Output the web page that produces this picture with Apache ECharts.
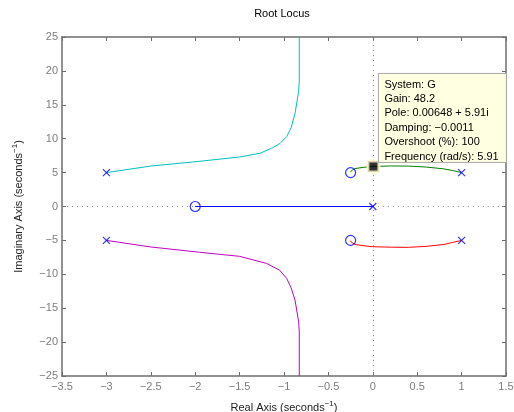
<!DOCTYPE html>
<html>
<head>
<meta charset="utf-8">
<script src="https://cdn.jsdelivr.net/npm/echarts@6/dist/echarts.min.js"></script>
<style>
  html, body { margin: 0; padding: 0; background: #fff; }
  #chart { width: 514px; height: 412px; }
</style>
</head>
<body>
<div id="chart"></div>
<script>
// root locus branches as [real, imag]
var branchCyan = [[-3, 5], [-2.5, 5.97], [-2.0, 6.6], [-1.5, 7.3], [-1.27, 7.85], [-1.14, 8.58],
  [-1.045, 9.3], [-0.97, 10.3], [-0.92, 11.6], [-0.876, 13.7], [-0.835, 17.0], [-0.828, 18.5], [-0.828, 25]];
var branchMagenta = [[-3, -5], [-2.5, -5.97], [-1.95, -6.75], [-1.5, -7.35], [-1.195, -8.4], [-1.05, -9.4],
  [-0.97, -10.6], [-0.92, -12.0], [-0.876, -13.8], [-0.835, -17.0], [-0.828, -18.5], [-0.828, -25]];
var branchBlue = [[0, 0], [-2, 0]];
var branchGreen = [[1, 5], [0.9, 5.3], [0.8, 5.55], [0.6, 5.82], [0.4, 5.96], [0.2, 5.98], [0.00648, 5.91],
  [-0.1, 5.78], [-0.2, 5.6], [-0.24, 5.3], [-0.25, 5.05]];
var branchRed = [[1, -5], [0.9, -5.3], [0.8, -5.6], [0.6, -5.88], [0.4, -6.02], [0.2, -6.0], [0, -5.93],
  [-0.1, -5.8], [-0.2, -5.6], [-0.24, -5.3], [-0.25, -5.05]];

var poles = [[-3, 5], [-3, -5], [1, 5], [1, -5], [0, 0]];
var zeros = [[-2, 0], [-0.25, 5], [-0.25, -5]];

var selectedPole = [0.00648, 5.91];
var infoLines = ['System: G', 'Gain: 48.2', 'Pole: 0.00648 + 5.91i', 'Damping: \u22120.0011',
  'Overshoot (%): 100', 'Frequency (rad/s): 5.91'];

var xTicks = { min: -3.5, max: 1.5, step: 0.5 };
var yTicks = { min: -25, max: 25, step: 5 };

var axisGray = '#6e6e6e';
var labelGray = '#7d7d7d';
var font = 'Liberation Sans, Arial, sans-serif';

function fmt(v) {
  return String(v).replace('-', '\u2212');
}

function lineSeries(data, color) {
  return {
    type: 'line', data: data, showSymbol: false, symbol: 'none',
    lineStyle: { color: color, width: 1 }, silent: true, animation: false, z: 3
  };
}

var chartDom = document.getElementById('chart');
var myChart = echarts.init(chartDom);

var sideAxis = {
  type: 'value', axisLabel: { show: false }, splitLine: { show: false },
  axisLine: { show: true, onZero: false, lineStyle: { color: axisGray, width: 1.5 } },
  axisTick: { show: true, inside: true, length: 4, lineStyle: { color: axisGray } }
};

var option = {
  animation: false,
  title: {
    text: 'Root Locus', left: 277, top: 3, textAlign: 'center',
    textStyle: { fontSize: 11, fontWeight: 'normal', color: '#000', fontFamily: font }
  },
  grid: { left: 62, right: 8, top: 37, bottom: 36, containLabel: false, outerBoundsMode: 'none' },
  xAxis: [
    Object.assign({}, sideAxis, {
      position: 'bottom', min: xTicks.min, max: xTicks.max, interval: xTicks.step,
      axisLabel: { show: true, color: labelGray, fontSize: 11, fontFamily: font, margin: 5, formatter: fmt },
      name: 'Real Axis (seconds{sup|\u22121})', nameLocation: 'middle', nameGap: 24,
      nameTextStyle: {
        color: '#222', fontSize: 11, fontFamily: font,
        rich: { sup: { fontSize: 8, fontFamily: font, color: '#222', padding: [0, 0, 7, 0] } }
      }
    }),
    Object.assign({}, sideAxis, { position: 'top', min: xTicks.min, max: xTicks.max, interval: xTicks.step })
  ],
  yAxis: [
    Object.assign({}, sideAxis, {
      position: 'left', min: yTicks.min, max: yTicks.max, interval: yTicks.step,
      axisLabel: { show: true, color: labelGray, fontSize: 11, fontFamily: font, margin: 4, formatter: fmt },
      name: 'Imaginary Axis (seconds{sup|\u22121})', nameLocation: 'middle', nameGap: 36, nameRotate: 90,
      nameTextStyle: {
        color: '#222', fontSize: 11, fontFamily: font,
        rich: { sup: { fontSize: 8, fontFamily: font, color: '#222', padding: [0, 0, 7, 0] } }
      }
    }),
    Object.assign({}, sideAxis, { position: 'right', min: yTicks.min, max: yTicks.max, interval: yTicks.step })
  ],
  series: [
    {
      // dotted lines through the origin, left out where the blue branch lies
      type: 'line', data: [], silent: true, z: 1,
      markLine: {
        silent: true, symbol: 'none', label: { show: false },
        lineStyle: { color: '#8c8c8c', type: [1, 4], width: 1 },
        data: [
          { xAxis: 0 },
          [{ coord: [xTicks.min, 0] }, { coord: [-2, 0] }],
          [{ coord: [0, 0] }, { coord: [xTicks.max, 0] }]
        ]
      }
    },
    lineSeries(branchCyan, '#00bfbf'),
    lineSeries(branchMagenta, '#bf00bf'),
    lineSeries(branchBlue, '#0000ff'),
    lineSeries(branchGreen, '#008000'),
    lineSeries(branchRed, '#ff0000'),
    {
      type: 'scatter', data: poles, symbol: 'path://M0,0L10,10M10,0L0,10', symbolSize: 7, z: 5,
      itemStyle: { color: 'none', borderColor: '#0000ff', borderWidth: 1.2 }, silent: true
    },
    {
      type: 'scatter', data: zeros, symbol: 'circle', symbolSize: 10, z: 5,
      itemStyle: { color: 'none', borderColor: '#0000ff', borderWidth: 1.2 }, silent: true
    },
    {
      type: 'scatter', data: [selectedPole], symbol: 'rect', symbolSize: 11, z: 6,
      itemStyle: { color: '#000', borderColor: '#fffbd0', borderWidth: 3 }, silent: true
    }
  ]
};
option && myChart.setOption(option);

// data tip box anchored next to the selected pole
var p = myChart.convertToPixel({ xAxisIndex: 0, yAxisIndex: 0 }, selectedPole);
myChart.setOption({
  graphic: [
    {
      type: 'rect', z: 10, x: p[0] + 5, y: p[1] - 93,
      shape: { width: 128, height: 89 },
      style: { fill: '#ffffe1', stroke: '#a8a8a8', lineWidth: 1 }
    },
    {
      type: 'text', z: 11, x: p[0] + 11, y: p[1] - 89,
      style: {
        text: infoLines.join('\n'), fill: '#000', font: '11px ' + font,
        lineHeight: 14.4, verticalAlign: 'top', align: 'left'
      }
    }
  ]
});
</script>
</body>
</html>
